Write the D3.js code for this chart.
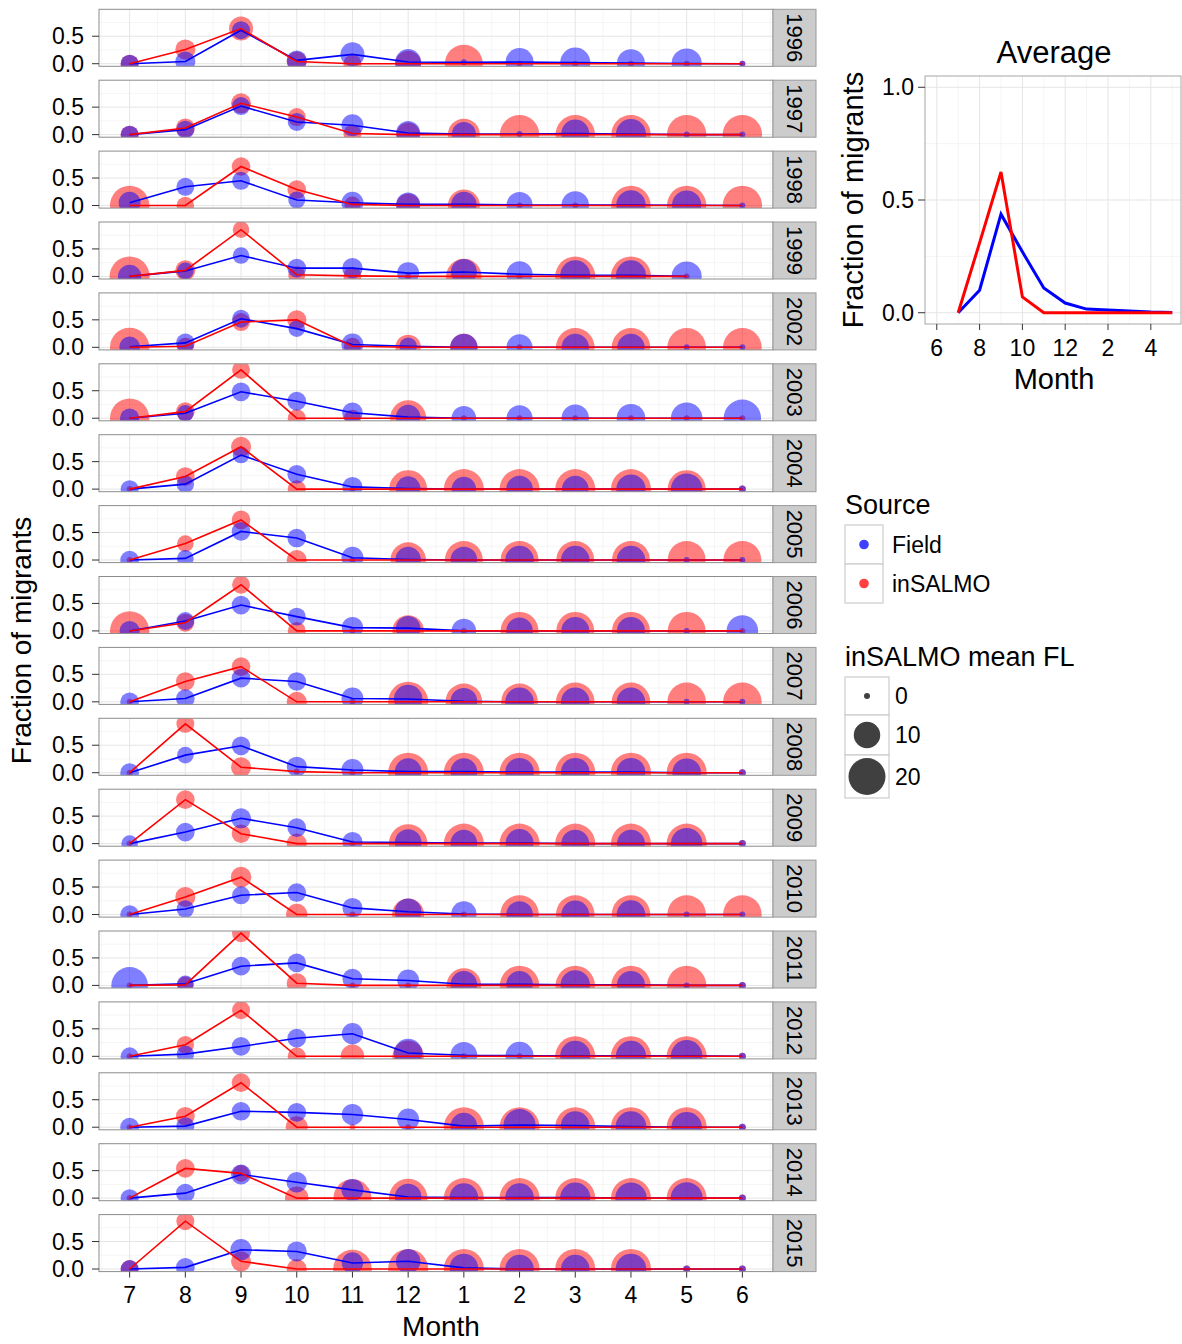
<!DOCTYPE html>
<html>
<head>
<meta charset="utf-8">
<script src="https://cdn.jsdelivr.net/npm/d3@7"></script>
<style>
  body { margin: 0; background: #fff; }
  text { font-family: "Liberation Sans", Arial, sans-serif; fill: #000; }
</style>
</head>
<body>
<script>
// months run July .. June, placed at positions 1..12
var monthLabels = ['7', '8', '9', '10', '11', '12', '1', '2', '3', '4', '5', '6'];
var years = [1996, 1997, 1998, 1999, 2002, 2003, 2004, 2005, 2006,
             2007, 2008, 2009, 2010, 2011, 2012, 2013, 2014, 2015];

// fraction of migrants per month, one row per year
var fieldFrac = [
  [0, 0.04, 0.61, 0.06, 0.17, 0.03, 0.025, 0.03, 0.02, 0.01, 0.005, 0],
  [0, 0.09, 0.52, 0.23, 0.17, 0.03, 0.01, 0.01, 0.02, 0.01, 0, 0],
  [0.05, 0.34, 0.45, 0.1, 0.05, 0.02, 0.02, 0.01, 0.01, 0.01, 0.005, 0],
  [0, 0.1, 0.38, 0.15, 0.15, 0.06, 0.08, 0.04, 0.02, 0.02, 0, null],
  [0.01, 0.08, 0.52, 0.34, 0.05, 0.02, 0, 0, 0, 0, 0, 0],
  [0, 0.09, 0.48, 0.31, 0.1, 0.02, 0, 0, 0, 0, 0, 0],
  [0, 0.09, 0.62, 0.27, 0.04, 0.01, 0, 0, 0, 0, 0, 0],
  [0, 0.03, 0.52, 0.4, 0.04, 0.01, 0, 0, 0, 0, 0, 0],
  [0, 0.18, 0.47, 0.26, 0.06, 0.05, 0, 0, 0, 0, 0, 0],
  [0, 0.06, 0.43, 0.37, 0.06, 0.05, 0.01, 0, 0, 0, 0, 0],
  [0, 0.32, 0.49, 0.11, 0.05, 0.02, 0.02, 0.01, 0.01, 0.01, 0, 0],
  [0, 0.21, 0.46, 0.29, 0.03, 0.02, 0.01, 0.01, 0, 0, 0, 0],
  [0, 0.1, 0.35, 0.4, 0.12, 0.05, 0.01, 0, 0, 0, 0, 0],
  [0, 0.03, 0.35, 0.41, 0.12, 0.09, 0.02, 0.02, 0.01, 0.01, 0, 0],
  [0, 0.04, 0.18, 0.33, 0.41, 0.06, 0.02, 0.01, 0.01, 0.01, 0.01, 0],
  [0, 0.02, 0.29, 0.27, 0.23, 0.14, 0.02, 0.04, 0.03, 0.01, 0, 0],
  [0, 0.09, 0.43, 0.29, 0.15, 0.02, 0.01, 0.01, 0.01, 0, 0, 0],
  [0, 0.03, 0.35, 0.32, 0.11, 0.14, 0.02, 0, 0, 0, 0, 0]
];
var modelFrac = [
  [0, 0.26, 0.64, 0.04, 0, 0, 0, 0, 0, 0, 0, 0],
  [0, 0.12, 0.57, 0.32, 0.02, 0, 0, 0, 0, 0, 0, 0],
  [0, 0, 0.71, 0.29, 0.02, 0, 0, 0, 0, 0, 0, 0],
  [0, 0.11, 0.85, 0.03, 0.01, 0, 0, 0, 0, 0, 0, null],
  [0, 0.02, 0.46, 0.5, 0.02, 0, 0, 0, 0, 0, 0, 0],
  [0, 0.12, 0.88, 0, 0, 0, 0, 0, 0, 0, 0, 0],
  [0, 0.23, 0.77, 0, 0, 0, 0, 0, 0, 0, 0, 0],
  [0, 0.3, 0.73, 0, 0, 0, 0, 0, 0, 0, 0, 0],
  [0, 0.15, 0.84, 0, 0, 0, 0, 0, 0, 0, 0, 0],
  [0, 0.37, 0.64, 0, 0, 0, 0, 0, 0, 0, 0, 0],
  [0, 0.89, 0.1, 0.02, 0, 0, 0, 0, 0, 0, 0, 0],
  [0, 0.8, 0.18, 0, 0, 0, 0, 0, 0, 0, 0, 0],
  [0, 0.32, 0.68, 0, 0, 0, 0, 0, 0, 0, 0, 0],
  [0, 0.01, 0.95, 0.04, 0, 0, 0, 0, 0, 0, 0, 0],
  [0, 0.21, 0.84, 0, 0, 0, 0, 0, 0, 0, 0, 0],
  [0, 0.2, 0.81, 0, 0, 0, 0, 0, 0, 0, 0, 0],
  [0, 0.54, 0.45, 0, 0, 0, 0, 0, 0, 0, 0, 0],
  [0, 0.87, 0.14, 0, 0, 0, 0, 0, 0, 0, 0, 0]
];

// mean FL per month (point size)
var fieldFL = [
  [4.3, 5.5, 4.3, 5.5, 8.1, 9.6, 0, 11.2, 13, 11.2, 13, 0],
  [4.3, 4.3, 4.3, 4.3, 6.7, 8.1, 8.1, 0, 11.2, 13, 0, 0],
  [6.7, 4.3, 4.3, 3.8, 6.7, 8.1, 9.1, 9.6, 10.7, 12.4, 12.4, 0],
  [7.7, 3.6, 3.6, 4.7, 5.8, 6.7, 9.6, 9.6, 13, 13, 13, null],
  [5.8, 4.7, 4.3, 3.6, 6.7, 4.0, 10.7, 9.6, 10.7, 10.7, 0, 0],
  [5.1, 3.6, 4.7, 4.7, 5.8, 8.5, 8.5, 9.6, 10.7, 11.7, 14.3, 20.4],
  [4.3, 4.0, 3.6, 4.7, 5.5, 8.5, 8.5, 10.1, 10.1, 12.4, 14.3, 0.2],
  [4.7, 3.6, 4.7, 4.7, 6.7, 9.1, 10.1, 11.7, 11.7, 11.7, 0, 0],
  [5.5, 4.3, 4.7, 4.3, 6.3, 8.5, 8.5, 10.1, 11.2, 11.2, 0, 14.3],
  [4.7, 4.7, 4.7, 4.7, 6.7, 11.7, 10.1, 11.7, 11.7, 11.7, 0, 0],
  [4.7, 3.6, 4.7, 5.5, 6.7, 10.1, 10.1, 11.7, 11.7, 11.7, 11.7, 0.2],
  [3.6, 4.7, 5.5, 4.7, 5.5, 10.1, 10.1, 11.2, 11.2, 11.2, 14.3, 0.2],
  [4.7, 4.0, 4.3, 4.7, 5.5, 10.1, 9.1, 10.1, 11.2, 11.7, 0, 0],
  [19.6, 3.6, 4.7, 4.7, 5.5, 6.7, 10.1, 10.1, 12.4, 11.2, 0, 0.2],
  [4.3, 4.0, 4.7, 4.7, 6.3, 11.7, 10.1, 11.2, 13, 13, 14.3, 0.2],
  [4.7, 4.3, 4.7, 4.7, 6.3, 6.7, 10.1, 14.8, 11.7, 13.5, 13.5, 0.2],
  [4.3, 4.7, 5.5, 5.8, 6.7, 10.1, 11.7, 11.7, 13, 14.3, 14.8, 0.2],
  [4.3, 4.7, 6.3, 5.5, 6.3, 8.5, 11.7, 11.7, 11.7, 13.5, 0.2, 0.2]
];
var modelFL = [
  [4.3, 5.5, 8.1, 5.5, 4.3, 9.6, 21.1, 0, 0, 0, 0, 0],
  [4.3, 4.9, 5.5, 4.3, 4.3, 8.1, 14.8, 22.7, 22.7, 22.7, 22.7, 22.7],
  [22.7, 4.0, 4.7, 4.7, 3.3, 8.1, 14.8, 0, 0, 22.7, 22.7, 22.7],
  [23.5, 5.5, 3.6, 3.8, 4.3, 0, 18.3, 0, 23.5, 23.5, 0, null],
  [22.7, 3.8, 4.3, 5.1, 3.8, 9.1, 10.7, 0, 21.8, 21.8, 21.8, 21.8],
  [22.7, 4.7, 4.3, 4.3, 3.8, 18.9, 0, 0, 0, 0, 0, 0],
  [0, 4.7, 5.5, 4.3, 0, 21.1, 23.5, 23.5, 23.5, 23.5, 21.1, 0.2],
  [0, 3.6, 4.7, 5.5, 0, 18.3, 21.1, 21.1, 21.1, 21.1, 21.1, 21.1],
  [22.7, 4.3, 4.3, 4.3, 0, 14.3, 0, 21.1, 21.1, 21.1, 21.1, 0],
  [0, 4.7, 4.7, 5.5, 0, 23.5, 19.6, 19.6, 21.8, 21.8, 21.8, 21.8],
  [0, 4.3, 5.5, 0, 0, 23.5, 23.5, 23.5, 23.5, 23.5, 23.5, 0.2],
  [0, 4.7, 4.7, 5.5, 0, 21.8, 23.5, 23.5, 23.5, 23.5, 23.5, 0.2],
  [0, 5.5, 5.8, 6.3, 0, 14.8, 0, 21.8, 21.8, 21.8, 21.8, 21.8],
  [0, 3.6, 4.3, 5.5, 0, 0, 17.4, 22.7, 22.7, 22.7, 22.7, 0.2],
  [0, 4.0, 4.3, 4.3, 7.7, 14.3, 0, 0, 23.5, 23.5, 23.5, 0.2],
  [0, 4.7, 4.7, 6.7, 0, 0, 23.5, 23.5, 23.5, 23.5, 23.5, 0.2],
  [0, 4.7, 3.6, 7.7, 21.1, 21.8, 23.5, 23.5, 23.5, 23.5, 23.5, 0.2],
  [4.3, 4.3, 5.5, 5.5, 21.8, 23.5, 23.5, 23.5, 23.5, 23.5, 0.2, 0.2]
];

// average panel (month 13..17 = Jan..May)
var avgMonths = [7, 8, 9, 10, 11, 12, 13, 14, 15, 16, 17];
var avgField = [0, 0.10, 0.437, 0.27, 0.11, 0.043, 0.016, 0.012, 0.008, 0.003, 0.001];
var avgModel = [0, 0.31, 0.624, 0.07, 0, 0, 0, 0, 0, 0, 0];

var sources = ['Field', 'inSALMO'];
var sizeBreaks = [0, 10, 20];

var colors = { Field: '#0000ff', inSALMO: '#ff0000' };
var gridMajor = '#e5e5e5';
var gridMinor = '#f3f3f3';
var borderColor = '#8c8c8c';

var svg = d3.select('body').append('svg')
  .attr('width', 1182)
  .attr('height', 1344);

var panel = { left: 99, right: 773, stripRight: 816, top: 9.3, step: 70.9, height: 57 };

var x = d3.scaleLinear().domain([0.45, 12.55]).range([panel.left, panel.right]);
var size = d3.scaleRadial().domain([0, 20]).range([3, 18.5]);

function hline(g, y1, x1, x2, color, w) {
  g.append('line').attr('x1', x1).attr('x2', x2).attr('y1', y1).attr('y2', y1)
    .attr('stroke', color).attr('stroke-width', w);
}
function vline(g, x1, y1, y2, color, w) {
  g.append('line').attr('x1', x1).attr('x2', x1).attr('y1', y1).attr('y2', y2)
    .attr('stroke', color).attr('stroke-width', w);
}

years.forEach(function(year, i) {
  var top = panel.top + i * panel.step;
  var bottom = top + panel.height;
  var y = d3.scaleLinear().domain([-0.047, 0.99]).range([bottom, top]);
  var g = svg.append('g');

  g.append('rect')
    .attr('x', panel.left).attr('y', top)
    .attr('width', panel.right - panel.left).attr('height', panel.height)
    .attr('fill', '#fff');

  d3.range(0.5, 12.6, 1).forEach(function(m) { vline(g, x(m), top, bottom, gridMinor, 0.8); });
  [0.25, 0.75].forEach(function(v) { hline(g, y(v), panel.left, panel.right, gridMinor, 0.8); });
  d3.range(1, 13).forEach(function(m) { vline(g, x(m), top, bottom, gridMajor, 1); });
  [0, 0.5].forEach(function(v) { hline(g, y(v), panel.left, panel.right, gridMajor, 1); });

  var clipId = 'clip' + year;
  g.append('clipPath').attr('id', clipId)
    .append('rect')
    .attr('x', panel.left).attr('y', top)
    .attr('width', panel.right - panel.left).attr('height', panel.height);

  var plot = g.append('g').attr('clip-path', 'url(#' + clipId + ')');

  var field = fieldFrac[i].map(function(v, j) {
    return { m: j + 1, v: v, fl: fieldFL[i][j] };
  });
  var model = modelFrac[i].map(function(v, j) {
    return { m: j + 1, v: v, fl: modelFL[i][j] };
  });

  // model bubbles first, field on top
  [[model, 'inSALMO'], [field, 'Field']].forEach(function(s) {
    plot.selectAll(null)
      .data(s[0].filter(function(d) { return d.v != null; }))
      .enter()
      .append('circle')
      .attr('cx', function(d) { return x(d.m); })
      .attr('cy', function(d) { return y(d.v); })
      .attr('r', function(d) { return size(d.fl); })
      .attr('fill', colors[s[1]])
      .attr('fill-opacity', 0.5);
  });

  var line = d3.line()
    .defined(function(d) { return d.v != null; })
    .x(function(d) { return x(d.m); })
    .y(function(d) { return y(d.v); });

  [[field, 'Field'], [model, 'inSALMO']].forEach(function(s) {
    plot.append('path')
      .datum(s[0])
      .attr('d', line)
      .attr('fill', 'none')
      .attr('stroke', colors[s[1]])
      .attr('stroke-width', 1.6);
  });

  g.append('rect')
    .attr('x', panel.left).attr('y', top)
    .attr('width', panel.right - panel.left).attr('height', panel.height)
    .attr('fill', 'none').attr('stroke', borderColor).attr('stroke-width', 1);

  // strip
  g.append('rect')
    .attr('x', panel.right).attr('y', top)
    .attr('width', panel.stripRight - panel.right).attr('height', panel.height)
    .attr('fill', '#cccccc').attr('stroke', '#9a9a9a').attr('stroke-width', 1);
  g.append('text')
    .attr('transform', 'translate(' + ((panel.right + panel.stripRight) / 2) + ',' + (top + panel.height / 2) + ') rotate(90)')
    .attr('text-anchor', 'middle')
    .attr('dominant-baseline', 'central')
    .attr('font-size', '22px')
    .attr('fill', '#1a1a1a')
    .text(year);

  // y axis
  [0, 0.5].forEach(function(v) {
    hline(g, y(v), panel.left - 7, panel.left, '#333', 1);
    g.append('text')
      .attr('x', panel.left - 15).attr('y', y(v))
      .attr('text-anchor', 'end')
      .attr('dominant-baseline', 'central')
      .attr('font-size', '23px')
      .text(d3.format('.1f')(v));
  });

  // x axis under the last panel
  if (i === years.length - 1) {
    monthLabels.forEach(function(lab, j) {
      vline(g, x(j + 1), bottom, bottom + 6, '#333', 1);
      g.append('text')
        .attr('x', x(j + 1)).attr('y', bottom + 31)
        .attr('text-anchor', 'middle')
        .attr('font-size', '23px')
        .text(lab);
    });
  }
});

svg.append('text')
  .attr('x', (panel.left + panel.right) / 2 + 5).attr('y', 1336)
  .attr('text-anchor', 'middle')
  .attr('font-size', '28px')
  .text('Month');

svg.append('text')
  .attr('transform', 'translate(31,' + (panel.top + (years.length - 1) * panel.step + panel.height + panel.top) / 2 + ') rotate(-90)')
  .attr('text-anchor', 'middle')
  .attr('font-size', '28px')
  .text('Fraction of migrants');

// ---- Average panel ----
var avg = { left: 925, right: 1181, top: 76, bottom: 324 };
var ax = d3.scaleLinear().domain([5.45, 17.55]).range([avg.left, 1184]);
var ay = d3.scaleLinear().domain([-0.05, 1.05]).range([avg.bottom, avg.top]);
var ga = svg.append('g');

ga.append('rect')
  .attr('x', avg.left).attr('y', avg.top)
  .attr('width', avg.right - avg.left).attr('height', avg.bottom - avg.top)
  .attr('fill', '#fff');
[7, 9, 11, 13, 15, 17].forEach(function(m) { vline(ga, ax(m), avg.top, avg.bottom, gridMinor, 0.8); });
[0.25, 0.75].forEach(function(v) { hline(ga, ay(v), avg.left, avg.right, gridMinor, 0.8); });
[6, 8, 10, 12, 14, 16].forEach(function(m) { vline(ga, ax(m), avg.top, avg.bottom, gridMajor, 1); });
[0, 0.5, 1].forEach(function(v) { hline(ga, ay(v), avg.left, avg.right, gridMajor, 1); });

var avgLine = d3.line()
  .x(function(d) { return ax(d.m); })
  .y(function(d) { return ay(d.v); });

[[avgField, 'Field'], [avgModel, 'inSALMO']].forEach(function(s) {
  ga.append('path')
    .datum(avgMonths.map(function(m, j) { return { m: m, v: s[0][j] }; }))
    .attr('d', avgLine)
    .attr('fill', 'none')
    .attr('stroke', colors[s[1]])
    .attr('stroke-width', 3);
});

ga.append('rect')
  .attr('x', avg.left).attr('y', avg.top)
  .attr('width', avg.right - avg.left).attr('height', avg.bottom - avg.top)
  .attr('fill', 'none').attr('stroke', '#a6a6a6').attr('stroke-width', 1);

[0, 0.5, 1].forEach(function(v) {
  hline(ga, ay(v), avg.left - 7, avg.left, '#333', 1);
  ga.append('text')
    .attr('x', avg.left - 11).attr('y', ay(v))
    .attr('text-anchor', 'end')
    .attr('dominant-baseline', 'central')
    .attr('font-size', '23px')
    .text(d3.format('.1f')(v));
});
[6, 8, 10, 12, 14, 16].forEach(function(m) {
  vline(ga, ax(m), avg.bottom, avg.bottom + 6, '#333', 1);
  ga.append('text')
    .attr('x', ax(m)).attr('y', avg.bottom + 32)
    .attr('text-anchor', 'middle')
    .attr('font-size', '23px')
    .text(m > 12 ? m - 12 : m);
});
ga.append('text')
  .attr('x', 1054).attr('y', 389)
  .attr('text-anchor', 'middle')
  .attr('font-size', '29px')
  .text('Month');
ga.append('text')
  .attr('x', 1054).attr('y', 63)
  .attr('text-anchor', 'middle')
  .attr('font-size', '31px')
  .text('Average');
ga.append('text')
  .attr('transform', 'translate(863,' + (avg.top + avg.bottom) / 2 + ') rotate(-90)')
  .attr('text-anchor', 'middle')
  .attr('font-size', '29px')
  .text('Fraction of migrants');

// ---- legends ----
var lg = svg.append('g');
lg.append('text').attr('x', 845).attr('y', 514).attr('font-size', '27px').text('Source');
sources.forEach(function(s, k) {
  var top = 525 + k * 39;
  lg.append('rect').attr('x', 845).attr('y', top).attr('width', 38).attr('height', 39)
    .attr('fill', '#fff').attr('stroke', '#cccccc').attr('stroke-width', 1.2);
  lg.append('circle').attr('cx', 864).attr('cy', top + 19.5).attr('r', 4.8)
    .attr('fill', colors[s]).attr('fill-opacity', 0.75);
  lg.append('text').attr('x', 892).attr('y', top + 19.5)
    .attr('dominant-baseline', 'central')
    .attr('font-size', '23px').text(s);
});

lg.append('text').attr('x', 845).attr('y', 666).attr('font-size', '27px').text('inSALMO mean FL');
var keyTops = [677, 715, 755, 798];
sizeBreaks.forEach(function(b, k) {
  var top = keyTops[k], h = keyTops[k + 1] - top;
  lg.append('rect').attr('x', 845).attr('y', top).attr('width', 44).attr('height', h)
    .attr('fill', '#fff').attr('stroke', '#cccccc').attr('stroke-width', 1.2);
  lg.append('circle').attr('cx', 867).attr('cy', top + h / 2).attr('r', size(b))
    .attr('fill', '#000').attr('fill-opacity', 0.75);
  lg.append('text').attr('x', 895).attr('y', top + h / 2)
    .attr('dominant-baseline', 'central')
    .attr('font-size', '23px').text(b);
});
</script>
</body>
</html>
